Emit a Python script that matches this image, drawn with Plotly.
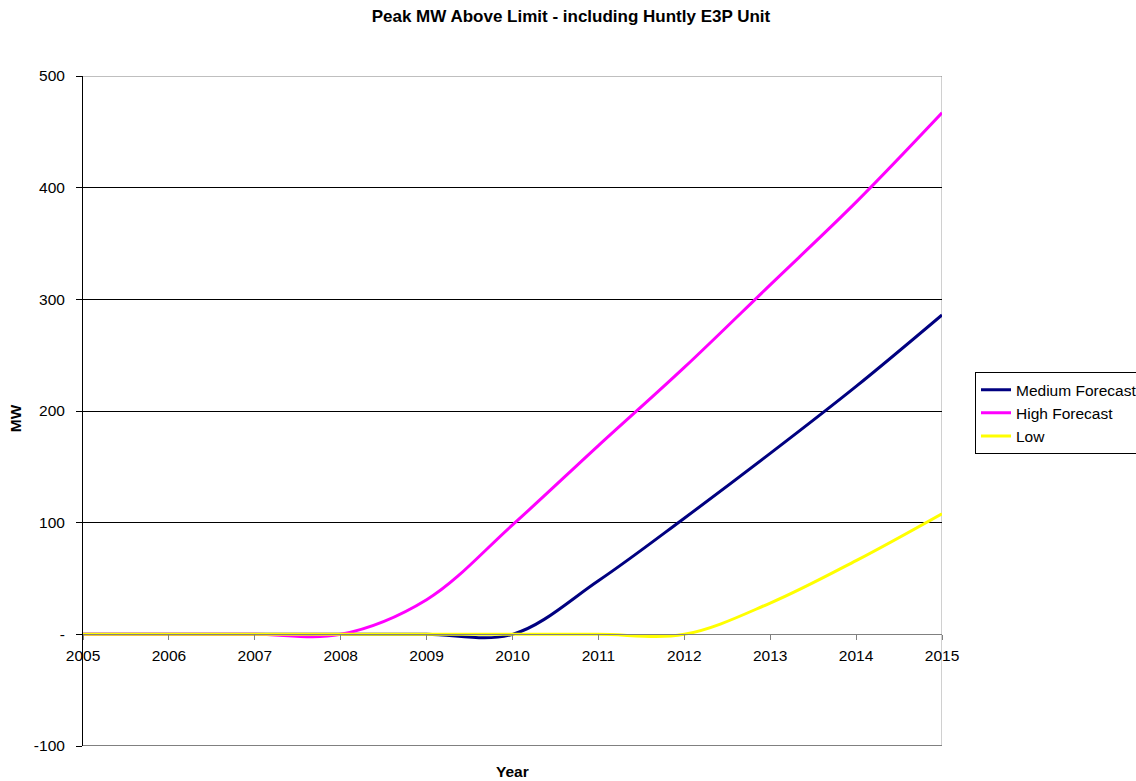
import plotly.graph_objects as go

years = [2005, 2006, 2007, 2008, 2009, 2010, 2011, 2012, 2013, 2014, 2015]
medium = [0, 0, 0, 0, 0, 0, 48, 104, 162, 222, 286]
high = [0, 0, 0, 0, 31, 98, 169, 239, 313, 387, 467]
low = [0, 0, 0, 0, 0, 0, 0, 0, 28, 66, 108]

series_names = ["Medium Forecast", "High Forecast", "Low"]
series_colors = ["#000080", "#FF00FF", "#FFFF00"]
y_ticks = [-100, 0, 100, 200, 300, 400, 500]
y_ticktext = ["-100", "-", "100", "200", "300", "400", "500"]

FONT = "Arial, 'Liberation Sans', sans-serif"

fig = go.Figure()
for name, vals, col in zip(series_names, [medium, high, low], series_colors):
    fig.add_trace(go.Scatter(
        x=years, y=vals, name=name, mode="lines",
        line=dict(color=col, width=3, shape="spline", smoothing=1),
    ))

fig.update_layout(
    width=1136, height=781,
    margin=dict(l=83, r=194, t=76, b=35, autoexpand=False),
    paper_bgcolor="white", plot_bgcolor="white",
    font=dict(family=FONT, size=15.5, color="black"),
    title=dict(text="<b>Peak MW Above Limit - including Huntly E3P Unit</b>",
               x=0.5026, xref="container", xanchor="center",
               y=1 - 16.5 / 781, yref="container", yanchor="middle",
               font=dict(family=FONT, size=17, color="black")),
    showlegend=True,
    legend=dict(x=(975 - 83) / 859, xanchor="left", y=(745.7 - 372) / 669.7, yanchor="top",
                bordercolor="black", borderwidth=1, bgcolor="white",
                font=dict(family=FONT, size=15.5, color="black"),
                traceorder="normal"),
    xaxis=dict(range=[2005, 2015], tickvals=years, ticktext=[str(y) for y in years],
               anchor="free", position=1 / 6, showgrid=False, zeroline=False,
               showline=True, linecolor="#808080", linewidth=1,
               ticks="outside", ticklen=5, tickcolor="#808080", tickwidth=1,
               ticklabelstandoff=2,
               tickfont=dict(family=FONT, size=15.5, color="black")),
    yaxis=dict(range=[-100, 500], tickvals=y_ticks, ticktext=y_ticktext,
               showgrid=True, gridcolor="black", gridwidth=1, zeroline=False,
               showline=True, linecolor="black", linewidth=1,
               ticks="outside", ticklen=6, tickcolor="black", tickwidth=1,
               ticklabelstandoff=8,
               tickfont=dict(family=FONT, size=15.5, color="black")),
    annotations=[
        dict(text="<b>MW</b>", xref="paper", yref="paper",
             x=(15 - 83) / 859, y=(745.7 - 418) / 669.7, textangle=-90,
             showarrow=False, xanchor="center", yanchor="middle",
             font=dict(family=FONT, size=15.5, color="black")),
        dict(text="<b>Year</b>", xref="paper", yref="paper",
             x=(512.7 - 83) / 859, y=(745.7 - 771.5) / 669.7,
             showarrow=False, xanchor="center", yanchor="middle",
             font=dict(family=FONT, size=15.5, color="black")),
    ],
    shapes=[
        dict(type="line", xref="paper", yref="y", x0=0, x1=1, y0=500, y1=500,
             line=dict(color="#808080", width=1), layer="above"),
        dict(type="line", xref="paper", yref="y", x0=0, x1=1, y0=-100, y1=-100,
             line=dict(color="#808080", width=2), layer="above"),
        dict(type="line", xref="x", yref="paper", x0=2015, x1=2015, y0=0, y1=1,
             line=dict(color="#A0A0A0", width=1), layer="below"),
    ],
)

fig.write_html("out.html")
